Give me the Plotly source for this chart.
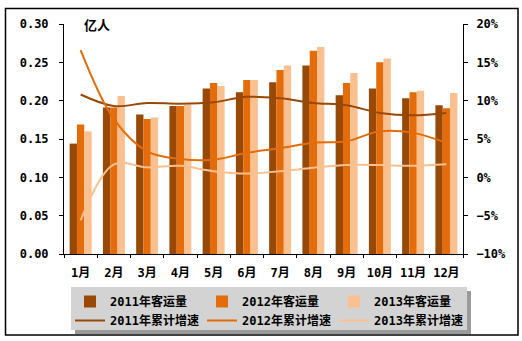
import plotly.graph_objects as go

# Monthly passenger volume (100 million people) and cumulative growth (%)
months = ["1月", "2月", "3月", "4月", "5月", "6月", "7月", "8月", "9月", "10月", "11月", "12月"]
vol_2011 = [0.144, 0.191, 0.182, 0.193, 0.216, 0.211, 0.224, 0.246, 0.207, 0.216, 0.203, 0.194]
vol_2012 = [0.169, 0.191, 0.176, 0.193, 0.223, 0.227, 0.240, 0.265, 0.223, 0.250, 0.211, 0.190]
vol_2013 = [0.160, 0.206, 0.178, 0.195, 0.219, 0.227, 0.246, 0.270, 0.236, 0.255, 0.213, 0.210]
growth_2011 = [10.8, 9.3, 9.7, 9.6, 9.8, 10.5, 10.3, 9.7, 9.4, 8.4, 8.1, 8.4]
growth_2012 = [16.6, 7.6, 3.4, 2.4, 2.3, 3.2, 3.8, 4.5, 4.7, 6.0, 5.8, 4.5]
growth_2013 = [-5.6, 1.7, 1.3, 1.5, 0.8, 0.5, 0.8, 1.25, 1.6, 1.6, 1.5, 1.7]

left_ticks = [0.00, 0.05, 0.10, 0.15, 0.20, 0.25, 0.30]
left_tick_text = ["0.00", "0.05", "0.10", "0.15", "0.20", "0.25", "0.30"]

C11, C12, C13 = "#984807", "#E46C0A", "#FAC090"

W, H = 522, 341
ML, MR, MT, MB = 64, 59, 24, 87
PW, PH = W - ML - MR, H - MT - MB

FONT = "DejaVu Sans Mono, Noto Sans CJK SC, sans-serif"


def px_x(x):
    return (x - ML) / PW


def px_y(y):
    return (H - MB - y) / PH


fig = go.Figure()
for name, vals, col in [("2011年客运量", vol_2011, C11),
                        ("2012年客运量", vol_2012, C12),
                        ("2013年客运量", vol_2013, C13)]:
    fig.add_trace(go.Bar(x=months, y=vals, name=name, marker=dict(color=col, line=dict(width=0))))

for name, vals, col in [("2011年累计增速", growth_2011, C11),
                        ("2012年累计增速", growth_2012, C12),
                        ("2013年累计增速", growth_2013, C13)]:
    fig.add_trace(go.Scatter(x=months, y=vals, name=name, yaxis="y2", mode="lines",
                             line=dict(color=col, width=2, shape="spline", smoothing=1.0)))

shapes = [
    # legend drop shadow and panel
    dict(type="rect", xref="paper", yref="paper", layer="below",
         x0=px_x(75), x1=px_x(471), y0=px_y(334), y1=px_y(291),
         fillcolor="#9a9a9a", line=dict(width=0)),
    dict(type="rect", xref="paper", yref="paper", layer="below",
         x0=px_x(71), x1=px_x(467), y0=px_y(330), y1=px_y(287),
         fillcolor="#d3d3d3", line=dict(width=0)),
    # outer frame
    dict(type="rect", xref="paper", yref="paper", layer="above",
         x0=px_x(5.5), x1=px_x(518), y0=px_y(335), y1=px_y(8.5),
         fillcolor="rgba(0,0,0,0)", line=dict(color="black", width=1.5)),
]

fig.update_layout(
    width=W, height=H,
    margin=dict(l=ML, r=MR, t=MT, b=MB, pad=0, autoexpand=False),
    paper_bgcolor="white", plot_bgcolor="white",
    font=dict(family=FONT, size=12, color="black", weight="bold"),
    barmode="group", bargap=0.34, bargroupgap=0,
    xaxis=dict(showline=True, linecolor="black", linewidth=1, automargin=False,
               ticks="outside", tickson="boundaries", ticklen=3, tickcolor="black",
               ticklabelstandoff=8, showgrid=False, zeroline=False, tickangle=0,
               tickfont=dict(size=12)),
    yaxis=dict(range=[0, 0.30], tickvals=left_ticks, ticktext=left_tick_text,
               showline=True, linecolor="black", linewidth=1, automargin=False,
               ticks="outside", ticklen=4, tickcolor="black",
               ticklabelstandoff=8, showgrid=False, zeroline=False),
    yaxis2=dict(range=[-10, 20], dtick=5, ticksuffix="%", overlaying="y", side="right",
                showline=True, linecolor="black", linewidth=1, automargin=False,
                ticks="outside", ticklen=4, tickcolor="black",
                ticklabelstandoff=6, showgrid=False, zeroline=False),
    legend=dict(orientation="h", xref="container", yref="container",
                x=70 / W, y=1 - 287 / H, xanchor="left", yanchor="top",
                bgcolor="rgba(0,0,0,0)", borderwidth=0,
                entrywidth=87, entrywidthmode="pixels",
                traceorder="normal",
                font=dict(family=FONT, size=12, color="black", weight="bold")),
    shapes=shapes,
    annotations=[dict(text="亿人", xref="paper", yref="paper", x=px_x(82), y=px_y(24),
                      xanchor="left", yanchor="middle", showarrow=False,
                      font=dict(family="Noto Sans CJK SC", size=13, color="black", weight="bold"))],
)

fig.write_html("out.html")
